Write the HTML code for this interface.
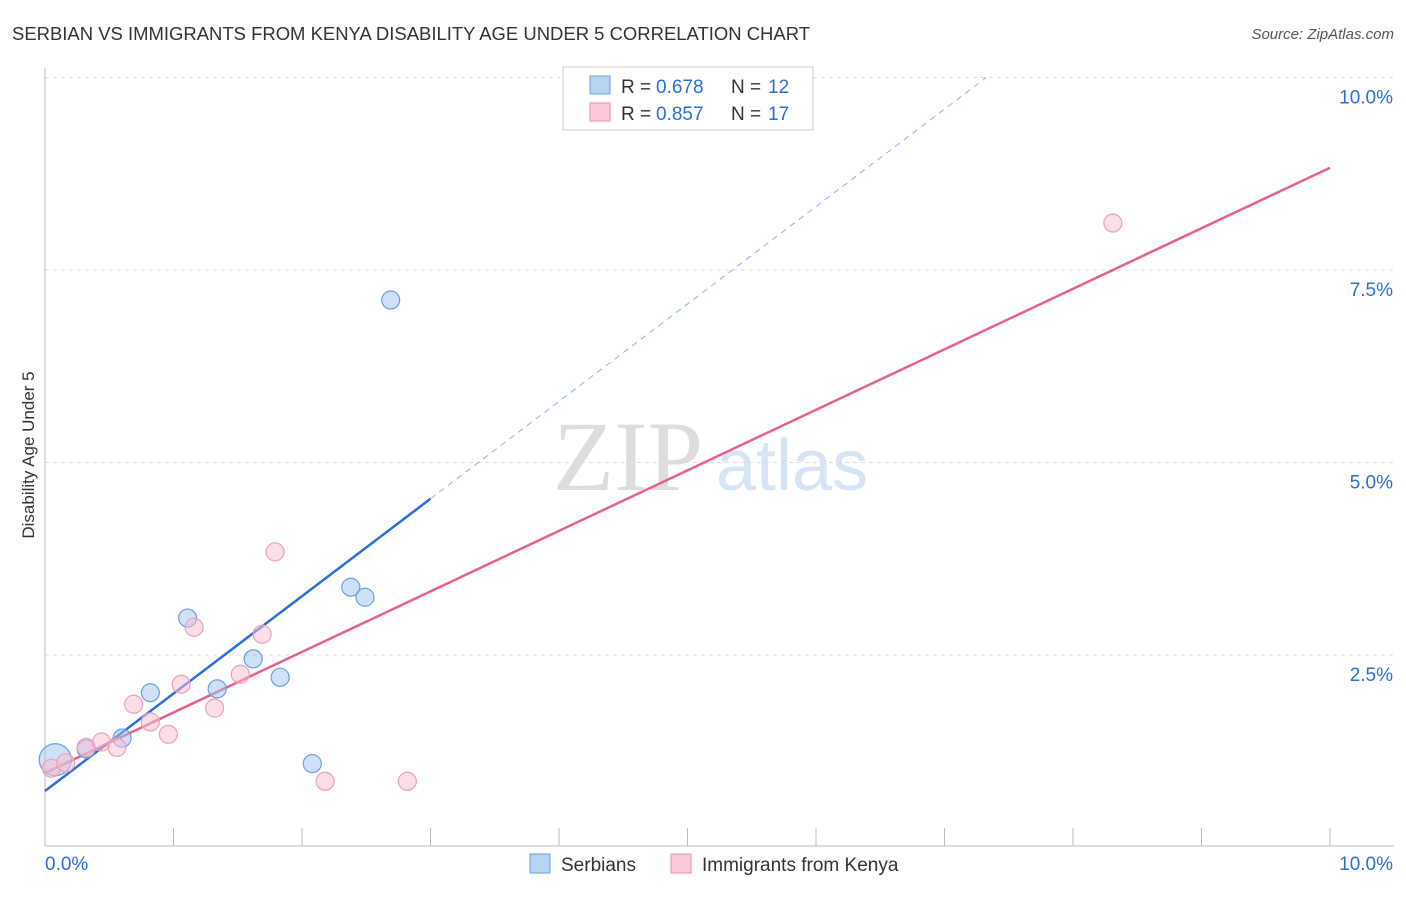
<!DOCTYPE html>
<html><head><meta charset="utf-8"><style>
body{margin:0;background:#fff;font-family:"Liberation Sans",sans-serif}
</style></head><body>
<svg width="1406" height="892" xmlns="http://www.w3.org/2000/svg" font-family="Liberation Sans, sans-serif">
<text x="12" y="40" font-size="18" fill="#333" textLength="798" lengthAdjust="spacingAndGlyphs">SERBIAN VS IMMIGRANTS FROM KENYA DISABILITY AGE UNDER 5 CORRELATION CHART</text>
<text x="1394" y="39" font-size="15" fill="#555" text-anchor="end" font-style="italic">Source: ZipAtlas.com</text>
<text x="34" y="455" font-size="17" fill="#333" text-anchor="middle" transform="rotate(-90 34 455)">Disability Age Under 5</text>
<text x="553" y="490" font-size="100" fill="#ddd" font-family="Liberation Serif, serif">ZIP</text>
<text x="716" y="490" font-size="72" fill="#d6e4f5">atlas</text>
<g id="grid"></g><g id="axes"></g><g id="lines"></g><g id="pts"></g>
<g>
<rect x="563" y="67" width="250" height="63" fill="#fff" stroke="#ccc"/>
<rect x="590" y="76" width="20" height="18" fill="#b9d4f3" stroke="#6b9ee0"/>
<text x="621" y="93" font-size="19" fill="#333">R =</text>
<text x="656" y="93" font-size="19" fill="#2a6fd6">0.678</text>
<text x="731" y="93" font-size="19" fill="#333">N =</text>
<text x="768" y="93" font-size="19" fill="#2a6fd6">12</text>
<rect x="590" y="103" width="20" height="18" fill="#fbc9d8" stroke="#eb8fab"/>
<text x="621" y="120" font-size="19" fill="#333">R =</text>
<text x="656" y="120" font-size="19" fill="#2a6fd6">0.857</text>
<text x="731" y="120" font-size="19" fill="#333">N =</text>
<text x="768" y="120" font-size="19" fill="#2a6fd6">17</text>
</g>
<g>
<rect x="530" y="854" width="20" height="19" fill="#b9d4f3" stroke="#6b9ee0"/>
<text x="561" y="871" font-size="19" fill="#333">Serbians</text>
<rect x="671" y="854" width="20" height="19" fill="#fbc9d8" stroke="#eb8fab"/>
<text x="702" y="871" font-size="19" fill="#333">Immigrants from Kenya</text>
</g>
</svg>
<script>
const blueX=[0.08,0.32,0.60,0.82,1.11,1.34,1.62,1.83,2.08,2.38,2.49,2.69];
const blueY=[1.14,1.28,1.42,2.01,2.98,2.06,2.45,2.21,1.09,3.38,3.25,7.11];
const blueR=[16,9,9,9,9,9,9,9,9,9,9,9];
const pinkX=[0.05,0.16,0.32,0.44,0.56,0.69,0.82,0.96,1.06,1.16,1.32,1.52,1.69,1.79,2.18,2.82,8.31];
const pinkY=[1.03,1.10,1.30,1.37,1.30,1.86,1.63,1.47,2.12,2.86,1.81,2.25,2.77,3.84,0.86,0.86,8.11];
const blueFit=[0.734,1.265], pinkFit=[0.968,0.786];
const yTicks=[2.5,5.0,7.5,10.0];
const xTicks=[0,1,2,3,4,5,6,7,8,9,10];
const sx=v=>45+v*128.5, sy=v=>847.5-v*77;
const NS="http://www.w3.org/2000/svg";
function mk(p,t,a){const e=document.createElementNS(NS,t);for(const k in a)e.setAttribute(k,a[k]);document.getElementById(p).appendChild(e);return e;}
yTicks.forEach(t=>{
 const l=mk('grid','line',{x1:45,x2:1394,y1:sy(t),y2:sy(t),stroke:'#ddd','stroke-dasharray':'4,4'});
 
 
 const tx=mk('grid','text',{x:1393,y:sy(t)+26,'font-size':19,fill:'#2a6fd6','text-anchor':'end'});
 tx.textContent=t.toFixed(1)+'%';
 
 
});
mk('axes','line',{x1:45,x2:45,y1:68,y2:846,stroke:'#bbb'});
mk('axes','line',{x1:45,x2:1394,y1:846,y2:846,stroke:'#bbb'});
xTicks.forEach(t=>{const l=mk('axes','line',{x1:sx(t),x2:sx(t),y1:828,y2:846,stroke:'#bbb'});
 
 });
[[0,45,'start'],[10,1393,'end']].forEach(([v,x,a])=>{const tx=mk('axes','text',{x:x,y:870,'font-size':19,fill:'#2a6fd6','text-anchor':a});tx.textContent=v.toFixed(1)+'%';
 
 });
const bEnd=3.0, bDash=(10-blueFit[0])/blueFit[1];
let l=mk('lines','line',{x1:sx(0),y1:sy(blueFit[0]),x2:sx(bEnd),y2:sy(blueFit[0]+blueFit[1]*bEnd),stroke:'#2a6fd6','stroke-width':2.5});


l=mk('lines','line',{x1:sx(bEnd),y1:sy(blueFit[0]+blueFit[1]*bEnd),x2:sx(bDash),y2:sy(10),stroke:'#8fb3e6','stroke-width':1,'stroke-dasharray':'6,5'});


l=mk('lines','line',{x1:sx(0),y1:sy(pinkFit[0]),x2:sx(10),y2:sy(pinkFit[0]+pinkFit[1]*10),stroke:'#e8608c','stroke-width':2.5});


blueX.forEach((x,i)=>{const c=mk('pts','circle',{cx:sx(x),cy:sy(blueY[i]),r:blueR[i],fill:'rgba(160,196,240,0.5)',stroke:'#6b9ee0','stroke-width':1.2});
 
 });
pinkX.forEach((x,i)=>{const c=mk('pts','circle',{cx:sx(x),cy:sy(pinkY[i]),r:9,fill:'rgba(248,190,210,0.5)',stroke:'#eea0b8','stroke-width':1.2});
 
 });
</script>
</body></html>
